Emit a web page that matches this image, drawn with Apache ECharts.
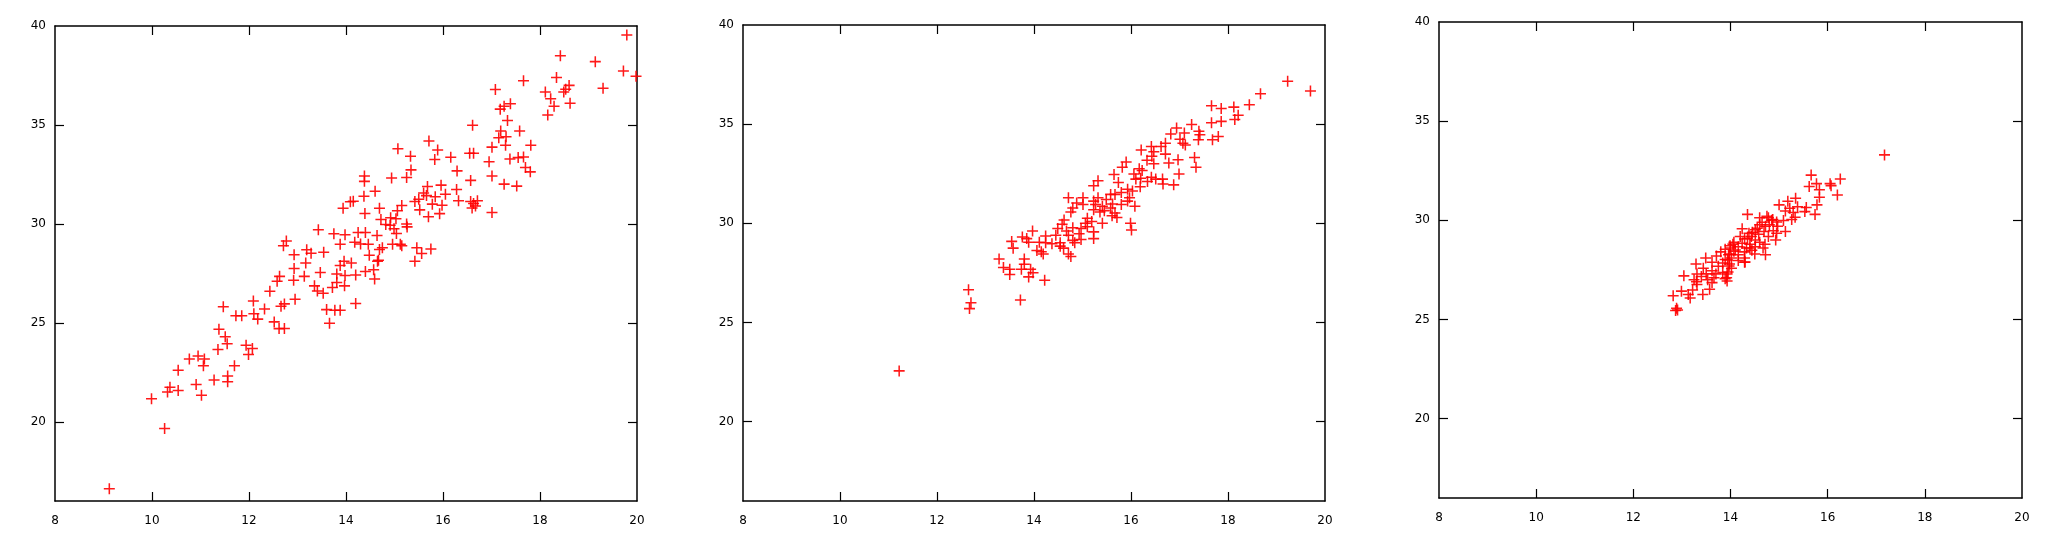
<!DOCTYPE html>
<html>
<head>
<meta charset="utf-8">
<script src="https://cdn.jsdelivr.net/npm/echarts@6/dist/echarts.min.js"></script>
<style>
  html, body { margin: 0; padding: 0; background: #fff; }
  #chart { width: 2056px; height: 534px; }
</style>
</head>
<body>
<div id="chart"></div>
<script>
// tick labels shared by the three panels
const xLabels = [8, 10, 12, 14, 16, 18, 20]
const xTicks = [10, 12, 14, 16, 18]
const yLabels = [20, 25, 30, 35, 40]
const yTicks = [20, 25, 30, 35]

// panel 1 - wide spread
const p1x = [19.79, 18.42, 19.14, 19.72, 19.98, 18.34, 17.66, 19.30, 17.08, 18.6, 18.11, 18.49, 18.22, 18.53,
  18.62, 18.29, 17.39, 17.26, 17.18, 18.16, 17.33, 16.61, 17.58, 17.19, 17.15, 17.30, 15.71, 17.01, 17.29,
  17.81, 15.07, 15.89, 16.55, 16.63, 15.33, 16.16, 15.83, 17.38, 17.55, 17.66, 16.95, 15.34, 16.29, 17.7,
  17.8, 15.25, 14.94, 14.38, 14.38, 17.01, 16.57, 17.26, 17.52, 15.96, 15.68, 16.28, 14.6, 15.6, 16.05,
  14.37, 15.66, 15.84, 15.5, 16.32, 16.57, 16.71, 14.09, 14.15, 15.42, 15.78, 15.98, 16.63, 16.67, 16.6,
  15.15, 15.06, 13.94, 14.69, 15.52, 15.93, 15.7, 14.39, 17.01, 14.72, 14.92, 15.03, 14.82, 14.91, 15.25,
  15.26, 14.99, 15.04, 13.43, 13.75, 13.98, 14.25, 14.40, 14.64, 12.77, 12.71, 13.88, 14.18, 14.3, 14.46,
  14.96, 15.12, 15.15, 12.93, 14.48, 14.69, 14.75, 15.46, 15.75, 15.56, 13.19, 13.28, 13.54, 12.93, 13.17,
  13.96, 14.11, 13.88, 14.67, 14.65, 15.42, 13.47, 14.2, 14.4, 14.57, 13.98, 13.81, 12.92, 13.14, 12.58,
  12.63, 14.59, 13.81, 13.35, 13.72, 13.97, 12.43, 13.41, 13.53, 12.95, 12.09, 14.2, 12.32, 12.66, 12.73,
  11.47, 13.6, 13.77, 13.88, 12.1, 11.73, 11.85, 12.18, 13.66, 12.52, 12.62, 12.73, 11.38, 11.51, 11.55,
  11.94, 12.07, 11.99, 11.36, 10.95, 10.77, 11.08, 11.06, 11.7, 10.54, 11.56, 11.56, 11.28, 10.91, 10.37,
  10.54, 10.32, 11.02, 9.99, 10.26, 9.12]
const p1y = [39.54, 38.5, 38.2, 37.73, 37.46, 37.4, 37.23, 36.86, 36.79, 37.0, 36.67, 36.67, 36.32, 36.8,
  36.1, 35.95, 36.07, 35.95, 35.8, 35.5, 35.22, 34.98, 34.69, 34.69, 34.35, 34.4, 34.19, 33.88, 33.97,
  33.97, 33.8, 33.73, 33.57, 33.57, 33.42, 33.37, 33.26, 33.28, 33.35, 33.38, 33.14, 32.73, 32.68, 32.85,
  32.63, 32.35, 32.32, 32.42, 32.15, 32.42, 32.2, 32.01, 31.91, 31.96, 31.89, 31.74, 31.65, 31.56, 31.5,
  31.4, 31.43, 31.37, 31.25, 31.17, 31.13, 31.17, 31.12, 31.15, 31.13, 31.0, 30.94, 31.03, 30.9, 30.8,
  30.93, 30.67, 30.79, 30.79, 30.71, 30.52, 30.36, 30.53, 30.58, 30.22, 30.31, 30.26, 29.97, 29.93, 30.0,
  29.85, 29.76, 29.52, 29.7, 29.5, 29.45, 29.57, 29.57, 29.42, 29.14, 28.9, 28.97, 29.07, 28.99, 28.97,
  28.97, 28.97, 28.9, 28.44, 28.42, 28.71, 28.8, 28.8, 28.73, 28.5, 28.69, 28.52, 28.57, 27.75, 28.02,
  28.11, 28.02, 27.9, 28.16, 28.11, 28.11, 27.54, 27.42, 27.6, 27.68, 27.39, 27.47, 27.15, 27.35, 27.1,
  27.35, 27.22, 27.04, 26.87, 26.79, 26.87, 26.6, 26.61, 26.5, 26.19, 26.1, 25.98, 25.7, 25.84, 25.96,
  25.81, 25.67, 25.64, 25.64, 25.46, 25.36, 25.36, 25.19, 24.98, 25.05, 24.71, 24.72, 24.68, 24.3, 23.95,
  23.87, 23.7, 23.4, 23.66, 23.33, 23.18, 23.18, 22.83, 22.83, 22.61, 22.32, 22.03, 22.11, 21.89, 21.75,
  21.58, 21.51, 21.34, 21.17, 19.66, 16.62]

// panel 2 - tighter band
const p2x = [19.23, 19.7, 18.67, 18.44, 17.66, 17.86, 18.12, 18.21, 18.14, 17.86, 17.66, 17.25, 16.94,
  16.82, 17.1, 17.4, 17.42, 17.39, 17.8, 17.68, 17.01, 17.07, 17.12, 16.71, 16.42, 16.62, 16.21, 16.47,
  16.71, 16.43, 17.31, 16.33, 16.97, 15.9, 16.47, 16.78, 17.34, 15.82, 16.17, 16.23, 16.06, 15.65, 16.99,
  16.42, 16.2, 16.1, 16.51, 16.65, 16.34, 15.32, 15.23, 16.66, 16.88, 15.74, 16.19, 15.93, 16.03, 15.8,
  15.67, 15.58, 15.32, 14.71, 15.01, 15.97, 15.49, 15.23, 15.93, 14.88, 15.01, 15.27, 15.62, 15.8, 16.08,
  15.41, 15.58, 14.8, 14.76, 15.23, 15.45, 15.67, 15.36, 15.61, 15.71, 15.1, 14.62, 15.19, 15.06, 15.41,
  14.58, 15.99, 15.1, 14.49, 14.8, 14.97, 14.67, 15.23, 16.01, 13.97, 14.71, 14.93, 14.45, 13.76, 14.24,
  13.85, 15.23, 14.97, 13.54, 14.8, 14.11, 14.24, 14.54, 14.37, 13.89, 14.84, 14.54, 13.57, 14.61, 14.15,
  14.06, 14.19, 14.71, 14.76, 13.28, 13.8, 13.8, 13.37, 13.5, 13.74, 13.93, 13.98, 13.5, 13.89, 14.22,
  12.65, 12.7, 12.67, 13.72, 11.22]
const p2y = [37.16, 36.67, 36.53, 35.98, 35.93, 35.79, 35.86, 35.45, 35.24, 35.14, 35.07, 34.98, 34.81,
  34.5, 34.55, 34.64, 34.47, 34.21, 34.38, 34.21, 34.24, 34.04, 33.95, 34.04, 33.87, 33.87, 33.7, 33.61,
  33.49, 33.38, 33.32, 33.18, 33.21, 33.09, 33.0, 33.04, 32.83, 32.83, 32.75, 32.66, 32.49, 32.46, 32.49,
  32.32, 32.27, 32.23, 32.23, 32.23, 32.11, 32.15, 31.89, 31.98, 31.94, 32.06, 31.84, 31.72, 31.63, 31.55,
  31.46, 31.46, 31.29, 31.29, 31.29, 31.29, 31.2, 31.12, 31.12, 31.03, 30.95, 30.95, 30.98, 30.95, 30.86,
  30.86, 30.77, 30.77, 30.57, 30.69, 30.64, 30.52, 30.57, 30.38, 30.29, 30.26, 30.17, 30.09, 30.0, 30.0,
  29.95, 30.0, 29.83, 29.74, 29.78, 29.74, 29.61, 29.57, 29.66, 29.61, 29.4, 29.48, 29.4, 29.31, 29.36,
  29.23, 29.23, 29.18, 29.09, 29.14, 29.05, 29.02, 29.02, 28.97, 29.05, 29.02, 28.85, 28.75, 28.75, 28.57,
  28.63, 28.45, 28.45, 28.33, 28.2, 28.2, 27.94, 27.77, 27.68, 27.68, 27.68, 27.51, 27.42, 27.3, 27.13,
  26.65, 26.0, 25.7, 26.13, 22.56]

// panel 3 - narrow cloud
const p3x = [17.17, 15.66, 16.26, 16.05, 16.07, 15.62, 15.77, 15.83, 16.2, 15.83, 15.34, 15.18, 15.0,
  15.78, 15.38, 15.56, 15.22, 15.53, 15.13, 15.29, 15.74, 14.35, 15.33, 14.78, 14.6, 14.87, 15.09, 14.95,
  15.26, 14.6, 14.72, 14.8, 14.97, 14.24, 14.51, 14.69, 14.88, 15.13, 14.38, 14.58, 14.95, 14.2, 14.43,
  14.78, 14.29, 14.51, 14.93, 14.07, 14.24, 14.4, 14.6, 14.71, 13.99, 14.16, 14.33, 14.51, 14.67, 13.89,
  14.07, 14.29, 14.44, 13.8, 13.96, 14.16, 14.72, 13.71, 14.02, 14.29, 13.89, 13.49, 14.16, 13.62, 13.84,
  13.98, 14.29, 13.29, 13.75, 13.44, 14.02, 13.62, 13.84, 13.31, 13.93, 13.04, 13.4, 13.66, 13.89, 13.25,
  13.53, 13.93, 13.31, 13.62, 12.99, 13.22, 13.57, 12.82, 13.13, 13.17, 13.43, 12.89, 12.87, 12.91,
  13.92, 13.95, 13.97, 13.94, 13.98, 14.0, 14.05, 14.1, 14.35, 14.4, 14.45, 14.55, 14.65, 14.75, 14.85,
  14.3, 14.5, 13.7, 13.5, 13.3]
const p3y = [33.3, 32.28, 32.08, 31.85, 31.75, 31.71, 31.85, 31.54, 31.28, 31.16, 31.11, 30.96, 30.78,
  30.78, 30.68, 30.65, 30.61, 30.44, 30.47, 30.39, 30.3, 30.3, 30.16, 30.13, 30.13, 30.04, 29.99, 29.92,
  30.04, 29.78, 29.7, 29.78, 29.7, 29.58, 29.53, 29.44, 29.47, 29.44, 29.35, 29.3, 29.35, 29.18, 29.18,
  29.18, 29.06, 29.01, 29.01, 28.89, 28.84, 28.79, 28.89, 28.79, 28.72, 28.67, 28.61, 28.67, 28.61, 28.54,
  28.44, 28.41, 28.49, 28.41, 28.27, 28.27, 28.27, 28.2, 28.1, 28.1, 28.03, 28.1, 27.97, 27.89, 27.85,
  27.8, 27.89, 27.8, 27.68, 27.58, 27.58, 27.46, 27.37, 27.29, 27.29, 27.2, 27.17, 27.11, 27.06, 27.0,
  27.0, 26.94, 26.77, 26.86, 26.43, 26.49, 26.52, 26.2, 26.26, 26.08, 26.26, 25.57, 25.45, 25.48,
  27.1, 27.4, 27.7, 28.0, 28.3, 28.6, 28.8, 28.5, 29.1, 28.6, 29.4, 29.6, 29.9, 30.2, 30.0,
  27.9, 28.3, 27.3, 27.3, 26.9]

const panels = [
  { xs: p1x, ys: p1y, grid: { left: 55, top: 26, width: 582, height: 475 } },
  { xs: p2x, ys: p2y, grid: { left: 743, top: 25, width: 582, height: 476 } },
  { xs: p3x, ys: p3y, grid: { left: 1439, top: 22, width: 583, height: 476 } }
]

// gnuplot style "+" marker, filled thin cross
const plus = 'path://M4.3,0H5.7V4.3H10V5.7H5.7V10H4.3V5.7H0V4.3H4.3Z'
const font = { fontFamily: 'DejaVu Sans', fontSize: 12, color: '#000' }
const line = { show: true, onZero: false, lineStyle: { color: '#000', width: 1.5 } }

const grid = []
const xAxis = []
const yAxis = []
const series = []

panels.forEach((p, i) => {
  grid.push(p.grid)

  // bottom / top
  xAxis.push({
    type: 'value', gridIndex: i, position: 'bottom', min: 8, max: 20,
    axisLine: line, splitLine: { show: false },
    axisTick: { inside: true, length: 9, customValues: xTicks, lineStyle: { color: '#000', width: 1.2 } },
    axisLabel: Object.assign({ margin: 14, customValues: xLabels }, font)
  })
  xAxis.push({
    type: 'value', gridIndex: i, position: 'top', min: 8, max: 20,
    axisLine: line, splitLine: { show: false },
    axisTick: { inside: true, length: 9, customValues: xTicks, lineStyle: { color: '#000', width: 1.2 } },
    axisLabel: { show: false }
  })

  // left / right
  yAxis.push({
    type: 'value', gridIndex: i, position: 'left', min: 16, max: 40,
    axisLine: line, splitLine: { show: false },
    axisTick: { inside: true, length: 9, customValues: yTicks, lineStyle: { color: '#000', width: 1.2 } },
    axisLabel: Object.assign({ margin: 9, customValues: yLabels }, font)
  })
  yAxis.push({
    type: 'value', gridIndex: i, position: 'right', min: 16, max: 40,
    axisLine: line, splitLine: { show: false },
    axisTick: { inside: true, length: 9, customValues: yTicks, lineStyle: { color: '#000', width: 1.2 } },
    axisLabel: { show: false }
  })

  series.push({
    type: 'scatter',
    xAxisIndex: i * 2,
    yAxisIndex: i * 2,
    symbol: plus,
    symbolSize: 11,
    itemStyle: { color: '#ff0000', opacity: 0.9 },
    data: p.xs.map((x, k) => [x, p.ys[k]])
  })
})

const chart = echarts.init(document.getElementById('chart'))
chart.setOption({
  animation: false,
  backgroundColor: '#fff',
  grid,
  xAxis,
  yAxis,
  series
})
</script>
</body>
</html>
